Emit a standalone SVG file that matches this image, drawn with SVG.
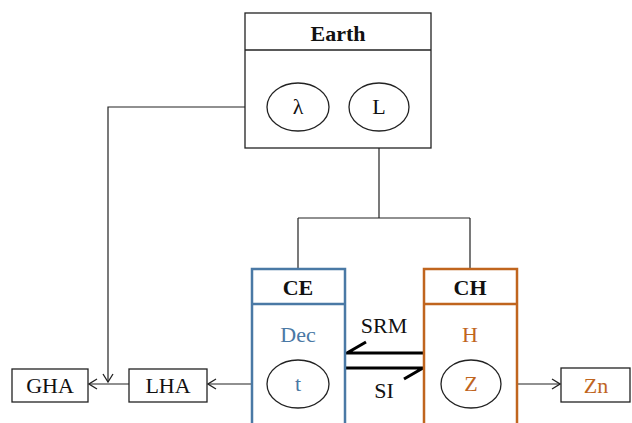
<svg xmlns="http://www.w3.org/2000/svg" width="632" height="423" viewBox="0 0 632 423">
<style>
text{font-family:"Liberation Serif","DejaVu Serif",serif;font-size:22px;text-anchor:middle;fill:#111}
.b{font-weight:bold}
.box{fill:#fff;stroke:#222;stroke-width:1.3}
.ell{fill:#fff;stroke:#222;stroke-width:1.3}
.ln{fill:none;stroke:#222;stroke-width:1.2}
.thick{fill:none;stroke:#000;stroke-width:3}
.blue{fill:#4A79A5}
.org{fill:#C0651E}
</style>
<defs>
<marker id="ah" viewBox="0 0 10 12" refX="9" refY="6" markerWidth="10" markerHeight="12" markerUnits="userSpaceOnUse" orient="auto">
<path d="M1,1 L9,6 L1,11" fill="none" stroke="#222" stroke-width="1.3"/>
</marker>
</defs>
<rect width="632" height="423" fill="#fff"/>
<g id="connectors">
<path class="ln" d="M267,107 H108 V382" marker-end="url(#ah)"/>
<path class="ln" d="M379,131 V218 M298,218 H470 M298,218 V269 M470,218 V269"/>
<path class="ln" d="M267,384 H208" marker-end="url(#ah)"/>
<path class="ln" d="M129,384 H89" marker-end="url(#ah)"/>
<path class="ln" d="M501,384 H560" marker-end="url(#ah)"/>
<path class="thick" d="M424,353 H347 L366,342"/>
<path class="thick" d="M346,368 H423 L404,379"/>
<text x="384" y="333">SRM</text>
<text x="384" y="398">SI</text>
</g>
<g id="earth">
<rect class="box" x="245" y="13" width="186" height="135"/>
<line x1="245" y1="50" x2="431" y2="50" stroke="#222" stroke-width="1.3"/>
<text class="b" x="338" y="41">Earth</text>
</g>
<g id="lambda">
<ellipse class="ell" cx="298" cy="107" rx="31" ry="24"/>
<text x="298" y="114">λ</text>
</g>
<g id="L">
<ellipse class="ell" cx="379" cy="107" rx="30" ry="24"/>
<text x="379" y="114">L</text>
</g>
<g id="CE">
<rect x="252" y="269" width="93" height="170" fill="#fff" stroke="#4A79A5" stroke-width="2.5"/>
<line x1="252" y1="304" x2="345" y2="304" stroke="#4A79A5" stroke-width="2.5"/>
<text class="b" x="298" y="295">CE</text>
<text class="blue" x="298" y="342">Dec</text>
</g>
<g id="t">
<ellipse class="ell" cx="298" cy="384" rx="31" ry="24"/>
<text class="blue" x="298" y="391">t</text>
</g>
<g id="CH">
<rect x="424" y="269" width="93" height="170" fill="#fff" stroke="#C0651E" stroke-width="2.5"/>
<line x1="424" y1="304" x2="517" y2="304" stroke="#C0651E" stroke-width="2.5"/>
<text class="b" x="470" y="295">CH</text>
<text class="org" x="470" y="342">H</text>
</g>
<g id="Z">
<ellipse class="ell" cx="471" cy="384" rx="30" ry="24"/>
<text class="org" x="471" y="391">Z</text>
</g>
<g id="GHA">
<rect class="box" x="12" y="369" width="76" height="33"/>
<text x="50" y="393">GHA</text>
</g>
<g id="LHA">
<rect class="box" x="129" y="369" width="78" height="33"/>
<text x="168" y="393">LHA</text>
</g>
<g id="Zn">
<rect class="box" x="561" y="368" width="69" height="34"/>
<text class="org" x="596" y="393">Zn</text>
</g>
</svg>
